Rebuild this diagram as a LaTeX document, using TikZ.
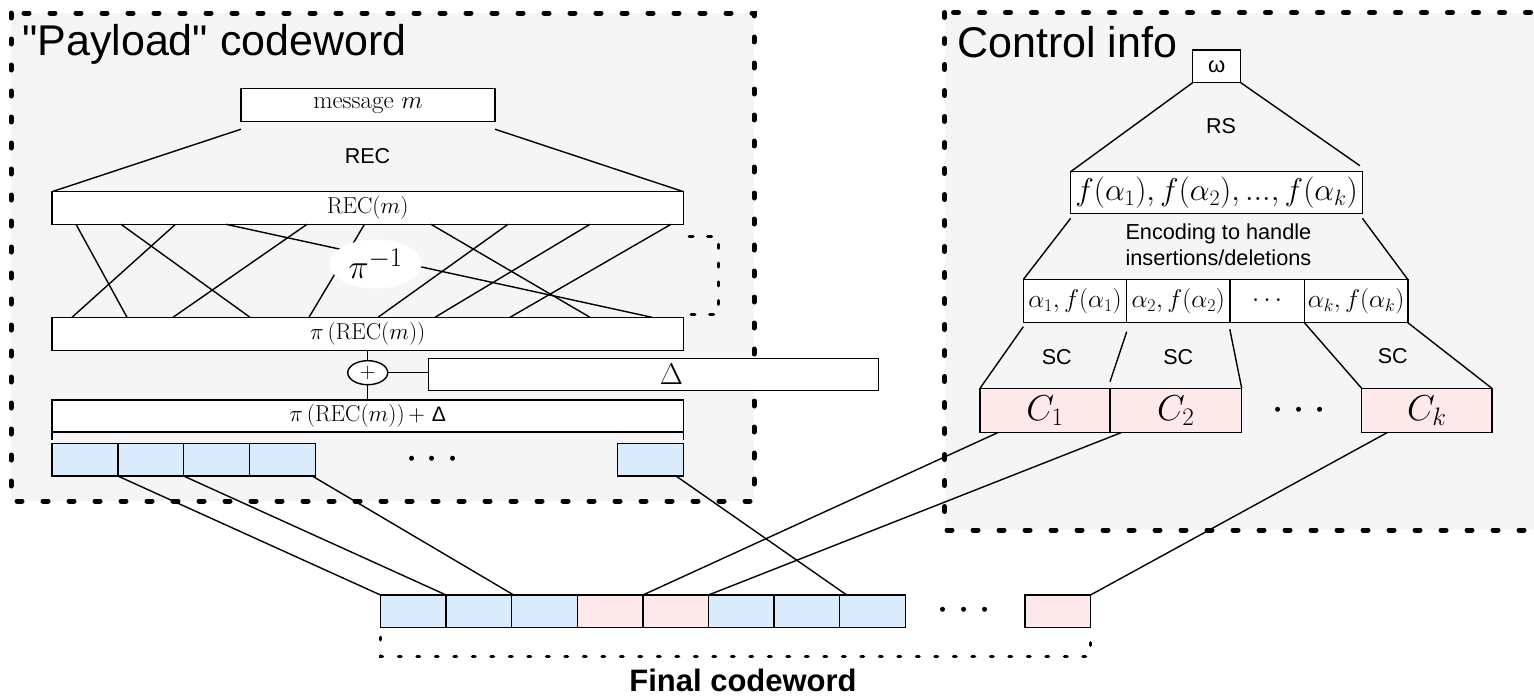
\RequirePackage{fix-cm}
\documentclass[tikz,border=0pt]{standalone}
\usepackage{fontspec}
\setmainfont{Latin Modern Roman}
\setsansfont{Liberation Sans}[Ligatures=TeXOff]
\usetikzlibrary{shapes.geometric,calc}
\definecolor{panelgray}{HTML}{F5F5F5}
\definecolor{cellblue}{HTML}{DAEBFC}
\definecolor{cellpink}{HTML}{FDE9EA}
\tikzset{
  panel/.style={draw=black, fill=panelgray, line width=5pt, line cap=round, dash pattern=on 5pt off 21pt},
  box/.style={draw, fill=white, line width=1.4pt, inner sep=0pt, outer sep=0pt, rectangle},
  conn/.style={line width=1.4pt},
  bcell/.style={box, fill=cellblue, minimum width=65.8pt, minimum height=32.7pt},
  fcell/.style={box, minimum width=65.6pt, minimum height=32.3pt},
  ccell/.style={box, fill=cellpink, minimum height=44.4pt, font=\fontsize{36}{38}\selectfont},
  acell/.style={box, minimum height=43.2pt, font=\fontsize{25.5}{28}\selectfont},
  lbl/.style={font=\sffamily\fontsize{21.5}{26}\selectfont, inner sep=0pt},
  title/.style={font=\sffamily\fontsize{43}{46}\selectfont, inner sep=0pt, anchor=base west},
  mathlbl/.style={font=\fontsize{23}{27}\selectfont},
  bigdots/.style={font=\fontsize{47}{47}\selectfont, inner sep=0pt},
  smalldash/.style={line width=3pt, line cap=round, dash pattern=on 4pt off 14.7pt},
  finaldash/.style={line width=3.5pt, line cap=round, dash pattern=on 2.5pt off 16pt},
}
\begin{document}
\begin{tikzpicture}[x=1pt,y=-1pt]
\useasboundingbox (0,0) rectangle (1534,696);
% panels
\draw[panel] (11,13) rectangle (754,501);
\draw[panel] (944.5,12.5) rectangle (1565,530);
\node[title] (ptitle) at (22,55) {"Payload" codeword};
\node[title] (ctitle) at (957,57) {Control info};

% ---------- payload side ----------
\node[box, minimum width=254pt, minimum height=33.4pt, font=\fontsize{25}{30}\selectfont] (msg) at (368,105) {message $m$};
\node[box, minimum width=631.5pt, minimum height=32.6pt, mathlbl] (rec) at (367.75,208) {$\mathrm{REC}(m)$};
\node[lbl] (reclbl) at (367.5,156) {REC};
\draw[conn] ($(msg.south west)+(0,7.5)$) -- (rec.north west);
\draw[conn] ($(msg.south east)+(0,7.5)$) -- (rec.north east);

\node[box, minimum width=631.5pt, minimum height=33.4pt, mathlbl] (pirec) at (367.75,334) {$\pi\left(\mathrm{REC}(m)\right)$};
\foreach \a/\b in {76/127,121/250,175.5/72,226/652,307/173,364.5/309,431/590,508/378,590/435,671/510}
  \draw[conn] (\a,0 |- rec.south) -- (\b,0 |- pirec.north);
\node[ellipse, fill=white, minimum width=92pt, minimum height=49pt, inner sep=0pt, font=\fontsize{34}{38}\selectfont] (pinv) at (375.7,264) {$\pi^{\hbox{\fontsize{27}{27}\selectfont$-1$}}$};
\coordinate (brA) at (689,236);
\coordinate (brB) at (718,236);
\coordinate (brC) at (718,314.7);
\coordinate (brD) at (691,314.7);
\draw[smalldash] (brA) -- (brB) -- (brC) -- (brD);

\node[ellipse, draw, fill=white, line width=1.4pt, minimum width=40pt, minimum height=24pt, inner sep=0pt, font=\fontsize{22}{22}\selectfont] (xor) at (367.75,372.7) {$+$};
\node[box, minimum width=449.6pt, minimum height=32.4pt, font=\fontsize{30}{30}\selectfont] (delta) at (653.5,374.5) {\hspace*{36pt}$\Delta$};
\node[box, minimum width=631.5pt, minimum height=32pt, mathlbl] (pidelta) at (367.75,416) {$\pi\left(\mathrm{REC}(m)\right) +$ {\sffamily\fontsize{21}{25}\selectfont Δ}};
\draw[conn] (pirec.south -| xor.north) -- (xor.north);
\draw[conn] (xor.south) -- (pidelta.north -| xor.south);
\draw[conn] (xor.east) -- (delta.west |- xor.east);
\draw[conn] (pidelta.south west) -- ++(0,8);
\draw[conn] (pidelta.south east) -- ++(0,8);

\node[bcell] (b1) at (84.9,459.65) {};
\node[bcell] (b2) at (150.7,459.65) {};
\node[bcell] (b3) at (216.5,459.65) {};
\node[bcell] (b4) at (282.3,459.65) {};
\node[bcell] (b5) at (650.6,459.65) {};
\node[bigdots] (dotsL) at (432.5,460) {$\cdots$};

% ---------- control side ----------
\node[box, minimum width=48pt, minimum height=32.7pt, font=\sffamily\fontsize{22}{26}\selectfont] (omega) at (1216.7,66.3) {ω};
\node[lbl] (rslbl) at (1221,126) {RS};
\node[box, minimum width=291.7pt, minimum height=41.6pt, font=\fontsize{31.5}{34}\selectfont] (fbox) at (1216.5,192.5) {$f(\alpha_1),f(\alpha_2),...,f(\alpha_k)$};
\draw[conn] (omega.south west) -- (fbox.north west);
\draw[conn] (omega.south east) -- ($(fbox.north east)+(-2.5,-6)$);
\node[lbl, align=center, font=\sffamily\fontsize{21.7}{26}\selectfont] (enclbl) at (1218.4,244.7) {Encoding to handle\\insertions/deletions};

\node[acell, minimum width=103.4pt] (a1) at (1075,301.1) {$\alpha_1,f(\alpha_1)$};
\node[acell, minimum width=103.1pt] (a2) at (1178.25,301.1) {$\alpha_2,f(\alpha_2)$};
\node[acell, minimum width=74.6pt] (a3) at (1267.1,301.1) {$\cdots$};
\node[acell, minimum width=103.4pt] (a4) at (1356.1,301.1) {$\alpha_k,f(\alpha_k)$};
\draw[conn] ($(fbox.south west)+(0,5)$) -- (a1.north west);
\draw[conn] ($(fbox.south east)+(0,5)$) -- (a4.north east);

\node[ccell, minimum width=130pt] (c1) at (1045,410.5) {$C_1$};
\node[ccell, minimum width=131.7pt] (c2) at (1175.85,410.5) {$C_2$};
\node[ccell, minimum width=130.3pt] (ck) at (1426.75,410.5) {$C_k$};
\node[bigdots] (dotsC) at (1299.3,411) {$\cdots$};
\draw[conn] ($(a1.south west)+(0,4)$) -- (c1.north west);
\draw[conn] ($(a2.south west)+(0,9)$) -- ($(c2.north west)+(0,-6.6)$);
\draw[conn] ($(a3.south west)+(0,6.6)$) -- (c2.north east);
\draw[conn] (a4.south west) -- (ck.north west);
\draw[conn] (a4.south east) -- (ck.north east);
\node[lbl] (sc1) at (1056.7,357.3) {SC};
\node[lbl] (sc2) at (1178.3,357) {SC};
\node[lbl] (sc3) at (1392.7,356) {SC};

% ---------- final codeword ----------
\foreach \i/\c in {1/cellblue,2/cellblue,3/cellblue,4/cellpink,5/cellpink,6/cellblue,7/cellblue,8/cellblue}
  \node[fcell, fill=\c] (f\i) at ({380.5+65.6*(\i-0.5)},611.15) {};
\node[fcell, fill=cellpink, minimum width=65.5pt] (f9) at (1057.75,611.15) {};
\node[bigdots] (dotsF) at (964,610.7) {$\cdots$};

\draw[conn] (b2.south west) -- (f1.north west);
\draw[conn] (b3.south west) -- (f2.north west);
\draw[conn] ($(b4.south east)+(-3,0)$) -- ($(f3.north west)+(2,0)$);
\draw[conn] ($(b5.south east)+(-7.5,0)$) -- ($(f8.north west)+(7,0)$);
\draw[conn] ($(c1.south west)+(17.6,0)$) -- (f5.north west);
\draw[conn] ($(c2.south west)+(11,0)$) -- (f6.north west);
\draw[conn] ($(ck.south west)+(25.4,0)$) -- (f9.north east);

\coordinate (fbL) at ($(f1.south west)+(0,10)$);
\coordinate (fbR) at ($(f9.south east)+(0,10)$);
\draw[finaldash] (fbL) -- ++(0,19) -| (fbR);
\node[font=\sffamily\bfseries\fontsize{31}{34}\selectfont, inner sep=0pt, anchor=base] (final) at (743,691.7) {Final codeword};
\end{tikzpicture}
\end{document}
